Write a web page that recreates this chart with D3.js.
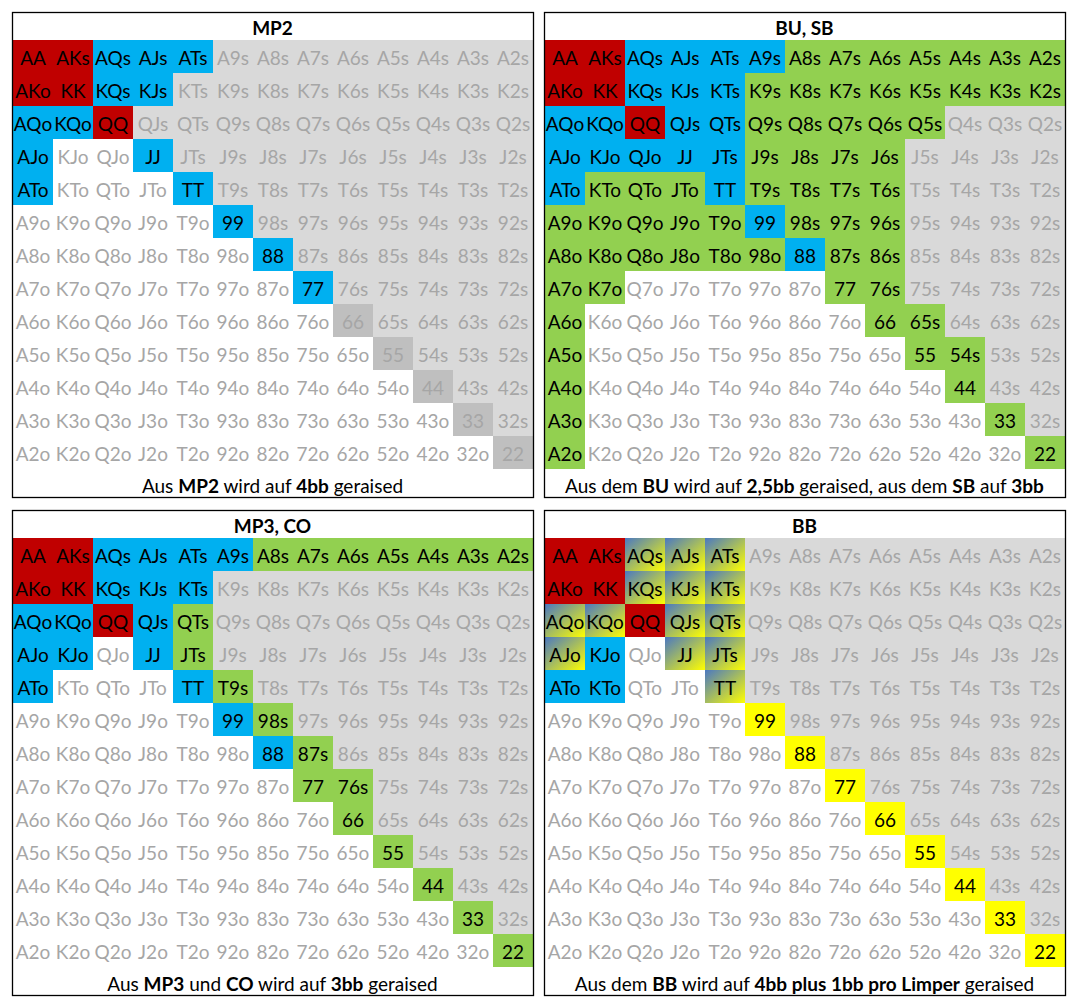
<!DOCTYPE html>
<html lang="de">
<head>
  <meta charset="UTF-8">
  <title>Raise-Ranges</title>
  <style>
    body { margin: 0; background: #fff; }
    svg { display: block; font-family: Lato, "Open Sans", sans-serif; }
  </style>
</head>
<body>
  <svg id="chart" width="1078" height="1006"></svg>

  <script src="https://d3js.org/d3.v7.min.js"></script>
  <script>
    // ranks, in the order of the rows and columns
    const ranks = ["A", "K", "Q", "J", "T", "9", "8", "7", "6", "5", "4", "3", "2"];

    // one letter per cell: R red, B blue, G green, Y yellow, X blue/yellow,
    // g grey (suited, not played), d dark grey (pair, not played), w white
    const mp2Rows = [
      "RRBBBgggggggg",
      "RRBBggggggggg",
      "BBRgggggggggg",
      "BwwBggggggggg",
      "BwwwBgggggggg",
      "wwwwwBggggggg",
      "wwwwwwBgggggg",
      "wwwwwwwBggggg",
      "wwwwwwwwdgggg",
      "wwwwwwwwwdggg",
      "wwwwwwwwwwdgg",
      "wwwwwwwwwwwdg",
      "wwwwwwwwwwwwd"
    ];
    const buSbRows = [
      "RRBBBBGGGGGGG",
      "RRBBBGGGGGGGG",
      "BBRBBGGGGGggg",
      "BBBBBGGGGgggg",
      "BGGGBGGGGgggg",
      "GGGGGBGGGgggg",
      "GGGGGGBGGgggg",
      "GGwwwwwGGgggg",
      "GwwwwwwwGGggg",
      "GwwwwwwwwGGgg",
      "GwwwwwwwwwGgg",
      "GwwwwwwwwwwGg",
      "GwwwwwwwwwwwG"
    ];
    const mp3CoRows = [
      "RRBBBBGGGGGGG",
      "RRBBBgggggggg",
      "BBRBGgggggggg",
      "BBwBGgggggggg",
      "BwwwBGggggggg",
      "wwwwwBGgggggg",
      "wwwwwwBGggggg",
      "wwwwwwwGGgggg",
      "wwwwwwwwGgggg",
      "wwwwwwwwwGggg",
      "wwwwwwwwwwGgg",
      "wwwwwwwwwwwGg",
      "wwwwwwwwwwwwG"
    ];
    const bbRows = [
      "RRXXXgggggggg",
      "RRXXXgggggggg",
      "XXRXXgggggggg",
      "XBwXXgggggggg",
      "BBwwXgggggggg",
      "wwwwwYggggggg",
      "wwwwwwYgggggg",
      "wwwwwwwYggggg",
      "wwwwwwwwYgggg",
      "wwwwwwwwwYggg",
      "wwwwwwwwwwYgg",
      "wwwwwwwwwwwYg",
      "wwwwwwwwwwwwY"
    ];

    const panelTitles = ["MP2", "BU, SB", "MP3, CO", "BB"];

    // caption pieces: [text, bold]
    const captions = [
      [["Aus ", false], ["MP2", true], [" wird auf ", false], ["4bb", true], [" geraised", false]],
      [["Aus dem ", false], ["BU", true], [" wird auf ", false], ["2,5bb", true],
       [" geraised, aus dem ", false], ["SB", true], [" auf ", false], ["3bb", true]],
      [["Aus ", false], ["MP3", true], [" und ", false], ["CO", true], [" wird auf ", false],
       ["3bb", true], [" geraised", false]],
      [["Aus dem ", false], ["BB", true], [" wird auf ", false], ["4bb plus 1bb pro Limper", true],
       [" geraised", false]]
    ];

    const panelRows = [mp2Rows, buSbRows, mp3CoRows, bbRows];

    const fills = {
      R: "#C00000", B: "#00B0F0", G: "#92D050", Y: "#FFFF00",
      X: "url(#mixGrad)", g: "#D9D9D9", d: "#BFBFBF", w: "#FFFFFF"
    };

    const cellW = 40, cellH = 33;
    const panelW = 521, panelH = 485;
    const panelX = [12, 544], panelY = [12, 510];
    const gridTop = 28;

    const svg = d3.select("#chart");

    const grad = svg.append("defs").append("linearGradient")
      .attr("id", "mixGrad")
      .attr("x1", 0).attr("y1", 0).attr("x2", 1).attr("y2", 1);
    grad.append("stop").attr("offset", "0%").attr("stop-color", "#4A78C2");
    grad.append("stop").attr("offset", "100%").attr("stop-color", "#FFFF00");

    const xScale = d3.scaleBand()
      .domain(d3.range(ranks.length))
      .range([0, cellW * ranks.length]);
    const yScale = d3.scaleBand()
      .domain(d3.range(ranks.length))
      .range([0, cellH * ranks.length]);

    function handName(i, j) {
      if (i === j) return ranks[i] + ranks[j];
      if (i < j) return ranks[i] + ranks[j] + "s";
      return ranks[j] + ranks[i] + "o";
    }

    panelRows.forEach((rows, p) => {
      const px = panelX[p % 2], py = panelY[Math.floor(p / 2)];
      const g = svg.append("g").attr("transform", `translate(${px}, ${py})`);

      const cells = [];
      rows.forEach((row, i) => {
        row.split("").forEach((code, j) => {
          cells.push({ i, j, code, name: handName(i, j) });
        });
      });

      const grid = g.append("g").attr("transform", `translate(1, ${gridTop})`);

      grid.selectAll("rect")
        .data(cells)
        .enter()
        .append("rect")
        .attr("x", d => xScale(d.j))
        .attr("y", d => yScale(d.i))
        .attr("width", xScale.bandwidth())
        .attr("height", yScale.bandwidth())
        .attr("fill", d => fills[d.code]);

      grid.selectAll("text")
        .data(cells)
        .enter()
        .append("text")
        .attr("x", d => xScale(d.j) + xScale.bandwidth() / 2)
        .attr("y", d => yScale(d.i) + yScale.bandwidth() / 2 + 1)
        .attr("text-anchor", "middle")
        .attr("dominant-baseline", "central")
        .style("font-size", "19px")
        .style("fill", d => "wgd".includes(d.code) ? "#A6A6A6" : "#000")
        .text(d => d.name);

      g.append("text")
        .attr("x", panelW / 2)
        .attr("y", 15)
        .attr("text-anchor", "middle")
        .attr("dominant-baseline", "central")
        .style("font-size", "19px")
        .style("font-weight", "bold")
        .text(panelTitles[p]);

      const cap = g.append("text")
        .attr("x", panelW / 2)
        .attr("y", 473)
        .attr("text-anchor", "middle")
        .attr("dominant-baseline", "central")
        .style("font-size", "19px");
      cap.selectAll("tspan")
        .data(captions[p])
        .enter()
        .append("tspan")
        .style("font-weight", d => d[1] ? "bold" : "normal")
        .text(d => d[0]);

      g.append("rect")
        .attr("x", 0.5)
        .attr("y", 0.5)
        .attr("width", panelW)
        .attr("height", panelH)
        .attr("fill", "none")
        .attr("stroke", "#000")
        .attr("stroke-width", 1.3);
    });
  </script>
</body>
</html>
